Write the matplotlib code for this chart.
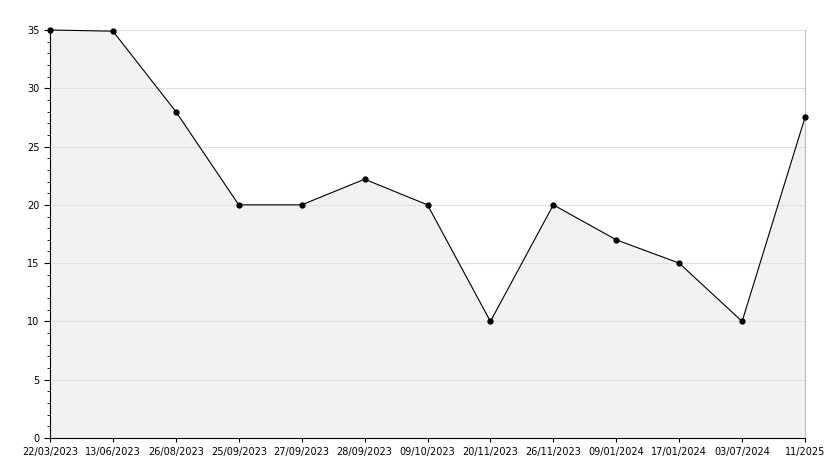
import matplotlib
matplotlib.use("Agg")
import matplotlib.pyplot as plt
from matplotlib.ticker import MultipleLocator

dates = ["22/03/2023","13/06/2023","26/08/2023","25/09/2023","27/09/2023","28/09/2023",
         "09/10/2023","20/11/2023","26/11/2023","09/01/2024","17/01/2024","03/07/2024","11/2025"]
values = [35, 34.9, 28, 20, 20, 22.2, 20, 10, 20, 17, 15, 10, 27.5]

fig = plt.figure(figsize=(8.34, 4.68), dpi=100)
ax = fig.add_axes([50/834, 30/468, 755/834, 408/468])
x = list(range(len(values)))
ax.fill_between(x, values, 0, color="#f2f2f2", zorder=1)
ax.plot(x, values, color="black", lw=0.8, marker="o", ms=3.5, zorder=3, clip_on=False)
ax.set_xlim(0, len(values)-1)
ax.set_ylim(0, 35)
ax.yaxis.set_major_locator(MultipleLocator(5))
ax.yaxis.set_minor_locator(MultipleLocator(1))
ax.grid(axis="y", which="major", color="#e0e0e0", lw=0.8, zorder=0)
ax.set_xticks(x)
ax.set_xticklabels(dates, fontsize=7)
ax.tick_params(axis="y", labelsize=7, length=4, direction="out")
ax.tick_params(axis="y", which="minor", length=2)
ax.tick_params(axis="x", length=3)
ax.spines["top"].set_visible(False)
ax.spines["right"].set_color("#bbbbbb")
fig.savefig("out.png", dpi=100)
